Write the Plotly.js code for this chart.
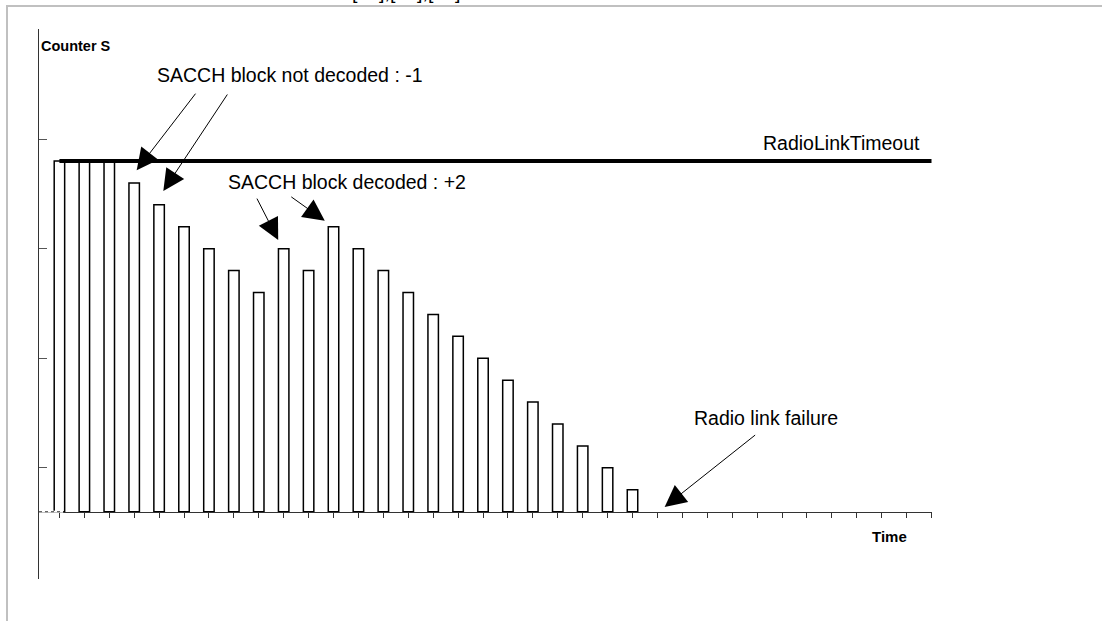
<!DOCTYPE html>
<html><head><meta charset="utf-8">
<script src="https://cdn.plot.ly/plotly-3.0.1.min.js"></script>
<style>
html,body{margin:0;padding:0;background:#fff;overflow:hidden;width:1102px;height:621px;}
#chart{position:absolute;left:0;top:0;width:1102px;height:621px;}
#frame{position:absolute;left:6px;top:5px;right:0;bottom:0;border-top:2px solid #c0c0c0;border-left:2px solid #c0c0c0;pointer-events:none;}
#cut{position:absolute;left:352px;top:-19.5px;font:19.5px 'Liberation Sans',Arial,sans-serif;line-height:normal;color:#000;white-space:pre;}
</style></head><body>
<div id="chart"></div><div id="cut">[15],[16],[17]</div><div id="frame"></div>
<script>
// ---- data ----
const timeSlots = [0,1,2,3,4,5,6,7,8,9,10,11,12,13,14,15,16,17,18,19,20,21,22,23];
const counterS  = [16,16,16,15,14,13,12,11,10,12,11,13,12,11,10,9,8,7,6,5,4,3,2,1];
const timeoutX  = [0,35];
const timeoutY  = [16,16];
const yTickVals = [2,7,12,17,22];
const labelNotDecoded = 'SACCH block not decoded : -1';
const labelDecoded = 'SACCH block decoded : +2';
const labelTimeout = 'RadioLinkTimeout';
const labelFailure = 'Radio link failure';
const labelY = 'Counter S';
const labelX = 'Time';

const FONT = "'Liberation Sans', Arial, sans-serif";

const traces = [
  {type:'bar', x:timeSlots, y:counterS, width:0.42,
   marker:{color:'#ffffff', line:{color:'#000000', width:1.5}},
   hoverinfo:'skip', showlegend:false},
  {type:'scatter', mode:'lines', x:timeoutX, y:timeoutY,
   line:{color:'#000000', width:4}, cliponaxis:false, hoverinfo:'skip', showlegend:false}
];

function arrow(x, y, ax, ay){
  return {x:x, y:y, xref:'x', yref:'y', ax:ax, ay:ay, text:'', showarrow:true,
          arrowhead:2, arrowsize:4.3, arrowwidth:1, arrowcolor:'#000', standoff:0};
}
function label(txt, x, y, xa, size, bold){
  return {x:x, y:y, xref:'x', yref:'y', text: bold ? '<b>'+txt+'</b>' : txt, showarrow:false,
          xanchor:xa, yanchor:'middle', font:{family:FONT, size:size, color:'#000'}};
}

const layout = {
  width:1102, height:621,
  margin:{l:39, r:170, t:29, b:42},
  paper_bgcolor:'rgba(0,0,0,0)', plot_bgcolor:'rgba(0,0,0,0)',
  showlegend:false,
  xaxis:{range:[-0.82,35.02], anchor:'free', position:0.12236, showline:true, linecolor:'#333', linewidth:1,
         ticks:'outside', ticklen:5, tickwidth:1, tickcolor:'#333', tick0:0, dtick:1,
         showticklabels:false, showgrid:false, zeroline:false, fixedrange:true},
  yaxis:{range:[-3.07,22.02], showline:true, linecolor:'#333', linewidth:1.5,
         ticks:'inside', ticklen:8, tickwidth:1, tickcolor:'#555', tickvals:yTickVals,
         showticklabels:false, showgrid:false, zeroline:false, fixedrange:true},
  shapes:[
    {type:'line', xref:'x', yref:'y', x0:-0.82, x1:0.15, y0:0, y1:0, layer:'above', line:{color:'#fff', width:2}},
    {type:'line', xref:'x', yref:'y', x0:-0.82, x1:0.15, y0:0, y1:0, layer:'above', line:{color:'#444', width:1, dash:'dot'}}
  ],
  annotations:[
    label(labelY, -0.82, 21.25, 'left', 14.5, true),
    label(labelX, 33.33, -1.11, 'center', 15, true),
    label(labelNotDecoded, 3.84, 19.92, 'left', 19.5, false),
    label(labelDecoded, 6.68, 15.04, 'left', 19.5, false),
    label(labelTimeout, 34.61, 16.82, 'right', 19.5, false),
    label(labelFailure, 25.39, 4.27, 'left', 19.5, false),
    arrow(3.10, 15.58, 60, -78),
    arrow(4.17, 14.63, 65, -98),
    arrow(8.78, 12.39, -22, -43),
    arrow(10.65, 13.27, -35, -25),
    arrow(24.29, 0.22, 92, -73)
  ]
};

Plotly.newPlot('chart', traces, layout, {staticPlot:true, displayModeBar:false});
</script>
</body></html>
